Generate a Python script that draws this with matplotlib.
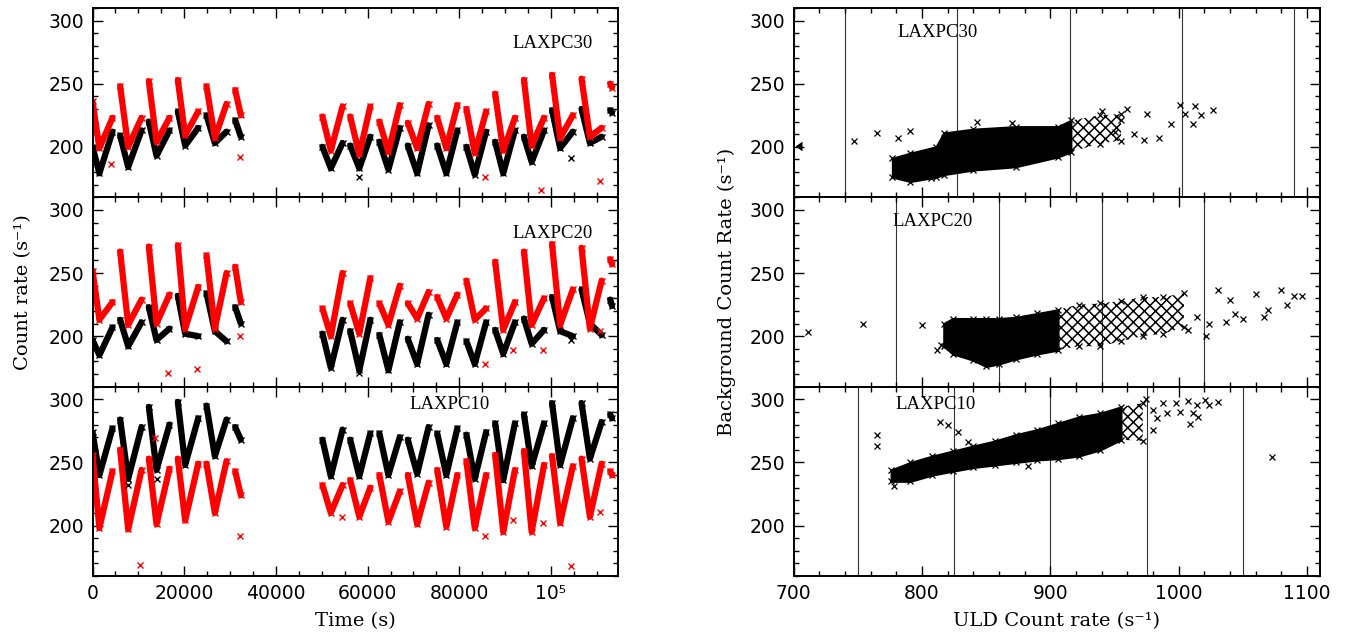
import matplotlib
matplotlib.use("Agg")
import matplotlib.pyplot as plt
from matplotlib.ticker import MultipleLocator, FuncFormatter

plt.rcParams["hatch.linewidth"] = 1.1

# ---- light curves: one list per orbit (start, minimum, end of the dip) ----
orbit_t = [[0, 1500, 4360], [6030, 7780, 10690], [12290, 13960, 16790],
           [18610, 20210, 23050], [24860, 26680, 29230], [31120, 32350],
           [50150, 51970, 54530], [56200, 58180, 60580], [62560, 64530, 67010],
           [68760, 70800, 73290], [75180, 77160, 79560], [81540, 83360, 85840],
           [87810, 89570, 92120], [94090, 95770, 98470], [100220, 101980, 104750],
           [106650, 108470, 111030], [112900, 113300]]

lx30_red = [[236, 199, 223], [248, 200, 223], [252, 204, 223], [253, 209, 228],
            [248, 207, 234], [245, 225], [224, 197, 232], [224, 194, 232],
            [220, 196, 233], [219, 199, 234], [223, 199, 233], [230, 195, 228],
            [242, 197, 223], [253, 201, 223], [257, 207, 225], [254, 208, 215],
            [250, 247]]
lx30_blk = [[200, 179, 212], [209, 184, 213], [220, 193, 213], [228, 201, 215],
            [225, 203, 212], [221, 208], [200, 183, 203], [201, 183, 208],
            [204, 182, 215], [201, 179, 217], [201, 179, 213], [200, 178, 212],
            [204, 179, 213], [208, 188, 213], [229, 199, 212], [230, 203, 208],
            [229, 227]]
lx20_red = [[252, 213, 227], [267, 209, 229], [271, 210, 233], [272, 206, 239],
            [264, 206, 250], [255, 227], [222, 200, 250], [226, 202, 246],
            [226, 209, 240], [226, 214, 235], [231, 214, 233], [244, 213, 222],
            [259, 205, 227], [267, 209, 230], [273, 209, 237], [270, 206, 244],
            [261, 257]]
lx20_blk = [[197, 185, 207], [213, 192, 211], [223, 197, 206], [232, 202, 200],
            [234, 204, 196], [223, 210], [202, 175, 213], [204, 173, 213],
            [201, 173, 211], [198, 178, 217], [197, 178, 211], [196, 178, 211],
            [205, 186, 211], [214, 194, 205], [231, 204, 200], [237, 210, 201],
            [229, 224]]
lx10_red = [[256, 198, 243], [260, 197, 244], [253, 201, 245], [253, 204, 249],
            [249, 210, 251], [243, 224], [232, 210, 232], [236, 207, 230],
            [240, 203, 227], [240, 201, 234], [244, 199, 240], [251, 198, 240],
            [256, 195, 244], [259, 195, 248], [255, 202, 247], [253, 207, 249],
            [243, 240]]
lx10_blk = [[274, 240, 277], [284, 237, 278], [294, 244, 280], [298, 248, 285],
            [295, 255, 284], [278, 268], [268, 239, 276], [268, 239, 273],
            [273, 240, 270], [268, 241, 278], [273, 240, 277], [272, 237, 274],
            [281, 236, 281], [288, 247, 281], [297, 248, 285], [297, 253, 282],
            [288, 285]]

# stray points (time, rate)
out30_red = [(4030, 186), (32100, 192), (85550, 176), (97900, 166), (110700, 173)]
out30_blk = [(58200, 176), (104400, 191)]
out20_red = [(16500, 171), (22800, 174), (32130, 200), (85500, 178), (91700, 189),
             (98200, 189), (110700, 204)]
out20_blk = [(58200, 171), (104400, 197)]
out10_red = [(10300, 169), (32100, 192), (13700, 269), (85500, 192), (91700, 204),
             (98200, 202), (104300, 168), (110700, 211), (54400, 207)]
out10_blk = [(14000, 237), (7800, 232)]

# ---- ULD vs background: cloud envelopes (dense part, then sparse part) ----
c30_u = [777, 791, 811, 817, 840, 873, 906, 916, 939, 955]
c30_hi = [191, 195, 200, 211, 214, 216, 216, 221, 225, 226]
c30_lo = [176, 172.5, 176, 178, 181.6, 184.2, 192, 196, 202.6, 205]
c30_split = 7
c20_u = [817, 824, 840, 850, 860, 873, 890, 906, 922, 939, 955, 972, 988, 1004]
c20_hi = [210, 214, 214, 214, 214, 215, 218, 221, 225, 226, 228, 231, 231, 234]
c20_lo = [192, 186, 181, 176, 178, 182, 186, 189, 192, 192, 196, 200, 202, 207]
c20_split = 7
c10_u = [776, 791, 808, 824, 840, 857, 873, 890, 906, 922, 939, 955, 972]
c10_hi = [244, 250, 255, 259, 263, 267, 272, 276, 281, 286, 289, 294, 297]
c10_lo = [235, 235, 240, 243, 246, 248, 250, 252, 253, 255, 260, 268, 267]
c10_split = 11

pts30 = [(747, 204.5), (765, 211), (781, 206.6), (791, 212.4), (807, 175), (843, 219.7),
         (870, 219), (955, 221), (950, 212), (965, 210.5), (973, 205.3), (975, 226.3),
         (985, 206.6), (994, 218), (1001, 233), (1011, 218.4), (1017, 225), (1027, 229),
         (940, 228), (960, 230), (1005, 226), (1013, 232)]
pts20 = [(711, 203.4), (754, 210), (800, 208.7), (1021, 200), (812, 189), (815, 193),
         (1030.5, 236.3), (1040.3, 228.4), (1050.2, 213.9), (1060, 233.7), (1066.6, 215.3),
         (1079.7, 236.3), (1084.6, 224.5), (1089.5, 232.1), (1096, 231.6), (1069.8, 220.5),
         (1043.6, 217.9), (1037, 211.3), (1023.9, 210), (1014, 215.3), (1007.5, 204.7)]
pts10 = [(765, 271.8), (765, 263.2), (814, 281.8), (820, 279.7), (828, 274.5), (836, 266),
         (1073, 254), (883, 247.4), (778, 231.6), (974.8, 300), (979.7, 291.6), (983, 285),
         (987.9, 296.8), (991.1, 288.9), (997.7, 296.8), (1001, 290.3), (1007.5, 299),
         (1010.8, 288.9), (1014.1, 295.5), (1020.7, 299.5), (1023.9, 295.5), (1030.5, 298.2),
         (1008.5, 280.3), (1014.8, 286.3), (979.7, 275.8)]
pts30_off = [(702, 200.5)]  # off-scale point shown as an arrow

vlines30 = [740, 827.5, 915, 1002.5, 1090]
vlines20 = [780, 860, 940, 1020]
vlines10 = [750, 825, 900, 975, 1050]

names = ["LAXPC30", "LAXPC20", "LAXPC10"]

# ---- figure ----
W, H = 1359, 639
fig = plt.figure(figsize=(W / 100, H / 100), dpi=100)
lab_font = {"family": "DejaVu Serif", "size": 14}


def px_axes(x0, x1, y0, y1):
    return fig.add_axes([x0 / W, 1 - y1 / H, (x1 - x0) / W, (y1 - y0) / H])


def style(ax, xmaj, xmin, show_x):
    ax.set_ylim(160, 310)
    ax.yaxis.set_major_locator(MultipleLocator(50))
    ax.yaxis.set_minor_locator(MultipleLocator(10))
    ax.xaxis.set_major_locator(MultipleLocator(xmaj))
    ax.xaxis.set_minor_locator(MultipleLocator(xmin))
    ax.tick_params(which="both", direction="in", top=True, right=True,
                   width=1.0, labelsize=13.5)
    ax.tick_params(which="major", length=7)
    ax.tick_params(which="minor", length=3.5)
    ax.tick_params(axis="y", pad=6)
    ax.tick_params(axis="x", pad=6, labelbottom=show_x)
    for s in ax.spines.values():
        s.set_linewidth(1.4)


def tfmt(v, pos):
    if abs(v - 100000) < 1:
        return "10\u2075"
    return "%d" % v


rows = [(8, 197.3), (197.3, 386.7), (386.7, 576)]
left_data = [(lx30_blk, lx30_red, out30_blk, out30_red),
             (lx20_blk, lx20_red, out20_blk, out20_red),
             (lx10_blk, lx10_red, out10_blk, out10_red)]
left_lab = [(0.875, 0.81), (0.875, 0.81), (0.68, 0.905)]

for i, (y0, y1) in enumerate(rows):
    ax = px_axes(92.5, 618, y0, y1)
    blk, red, oblk, ored = left_data[i]
    for t, v in zip(orbit_t, blk):
        ax.plot(t, v, color="black", lw=4.5, solid_joinstyle="round",
                solid_capstyle="round", marker="x", ms=5, mew=1)
    for t, v in zip(orbit_t, red):
        ax.plot(t, v, color="red", lw=4.5, solid_joinstyle="round",
                solid_capstyle="round", marker="x", ms=5, mew=1)
    ax.plot([p[0] for p in oblk], [p[1] for p in oblk], "x", color="black", ms=5, mew=1)
    ax.plot([p[0] for p in ored], [p[1] for p in ored], "x", color="red", ms=5, mew=1)
    ax.set_xlim(0, 114600)
    style(ax, 20000, 5000, i == 2)
    ax.xaxis.set_major_formatter(FuncFormatter(tfmt))
    ax.text(left_lab[i][0], left_lab[i][1], names[i], transform=ax.transAxes,
            ha="center", va="center", family="Liberation Serif", size=13.5)
    if i == 2:
        ax.set_xlabel("Time (s)", fontdict=lab_font, labelpad=6)
    if i == 1:
        ax.set_ylabel("Count rate (s\u207b\u00b9)", fontdict=lab_font, labelpad=12)

clouds = [(c30_u, c30_hi, c30_lo, c30_split, pts30, vlines30),
          (c20_u, c20_hi, c20_lo, c20_split, pts20, vlines20),
          (c10_u, c10_hi, c10_lo, c10_split, pts10, vlines10)]
right_lab = [(0.273, 0.868), (0.265, 0.87), (0.27, 0.908)]

for i, (y0, y1) in enumerate(rows):
    ax = px_axes(793.5, 1320, y0, y1)
    u, hi, lo, k, pts, vl = clouds[i]
    for x in vl:
        ax.axvline(x, color="#333333", lw=0.8, zorder=1)
    ax.fill_between(u[:k + 1], lo[:k + 1], hi[:k + 1], color="black", lw=1.5, zorder=2)
    ax.fill_between(u[k:], lo[k:], hi[k:], facecolor="none", edgecolor="black",
                    hatch="xxx", lw=0, zorder=2)
    ax.plot(u, hi, "x", color="black", ms=5, mew=0.9, zorder=3)
    ax.plot(u, lo, "x", color="black", ms=5, mew=0.9, zorder=3)
    ax.plot([p[0] for p in pts], [p[1] for p in pts], "x", color="black",
            ms=5, mew=0.9, zorder=3)
    if i == 0:
        ax.plot([p[0] for p in pts30_off], [p[1] for p in pts30_off], marker=4,
                color="black", ms=6, mew=0.9, ls="none", zorder=3)
    ax.set_xlim(700, 1110)
    style(ax, 100, 20, i == 2)
    ax.text(right_lab[i][0], right_lab[i][1], names[i], transform=ax.transAxes,
            ha="center", va="center", family="Liberation Serif", size=13.5)
    if i == 2:
        ax.set_xlabel("ULD Count rate (s\u207b\u00b9)", fontdict=lab_font, labelpad=6)
    if i == 1:
        ax.set_ylabel("Background Count Rate (s\u207b\u00b9)", fontdict=lab_font, labelpad=10)

fig.savefig("out.png", dpi=100)
